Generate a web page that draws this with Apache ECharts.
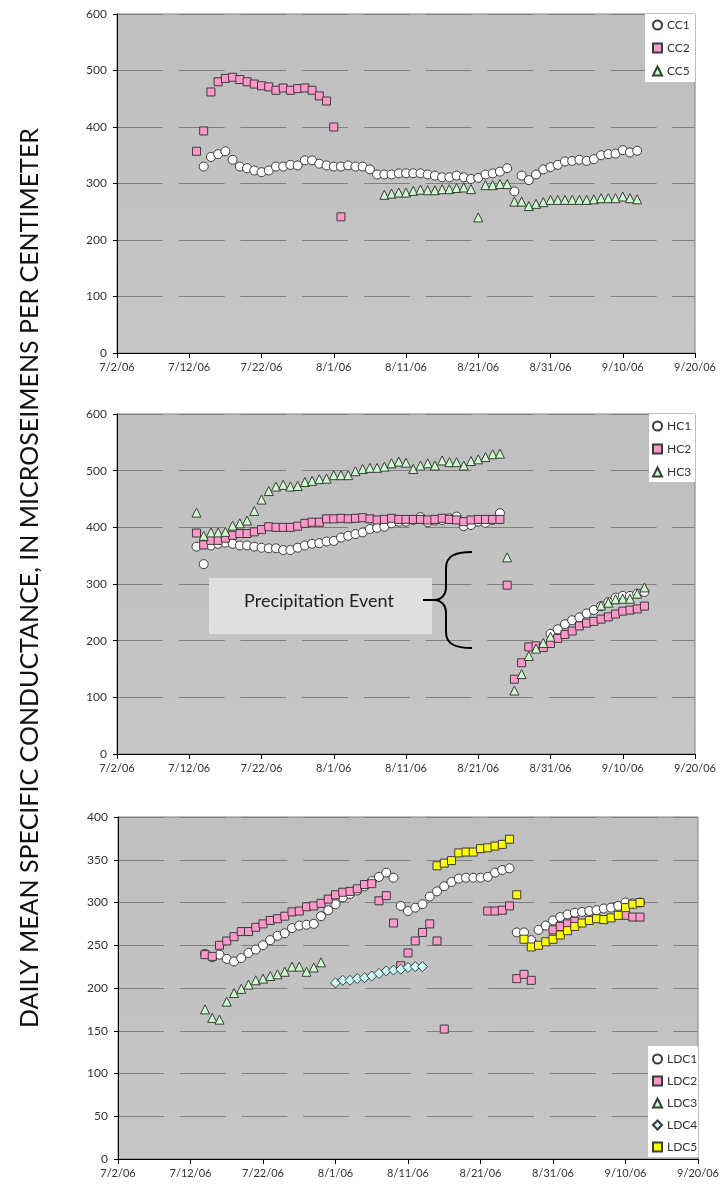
<!DOCTYPE html>
<html>
<head>
<meta charset="utf-8">
<script src="https://cdn.jsdelivr.net/npm/echarts@6/dist/echarts.min.js"></script>
<style>
  html, body { margin: 0; padding: 0; background: #fff; }
  #chart { width: 727px; height: 1189px; }
</style>
</head>
<body>
<div id="chart"></div>
<script>
// Daily mean specific conductance, summer 2006, three site groups.
// Axis origin: 7/2/06 (day 0). Each series = start date + consecutive daily values (null = no record).
const ORIGIN = '2006-07-02';
const X_TICK_LABELS = ['7/2/06', '7/12/06', '7/22/06', '8/1/06', '8/11/06', '8/21/06', '8/31/06', '9/10/06', '9/20/06'];

// ---- CC sites ----
const CC1_START = '2006-07-14';
const CC1 = [330, 347, 352, 357, 342, 330, 327, 323, 320, 323, 330, 330, 333, 332, 341, 341, 335, 332, 330, 330,
  332, 330, 330, 325, 316, 316, 316, 318, 318, 318, 318, 316, 314, 311, 311, 314, 311, 308, 310, 316,
  318, 321, 327, 286, 314, 306, 316, 325, 329, 333, 339, 340, 342, 340, 343, 350, 352, 353, 359, 355, 358];
const CC2_START = '2006-07-13';
const CC2 = [357, 393, 462, 480, 486, 488, 484, 480, 476, 473, 471, 465, 469, 465, 468, 469, 465, 455, 446, 400, 241];
const CC5_START = '2006-08-08';
const CC5 = [280, 282, 284, 284, 287, 289, 288, 288, 290, 290, 292, 293, 290, 240, 297, 297, 299, 299, 268, 268,
  260, 264, 267, 271, 271, 271, 271, 271, 271, 272, 274, 274, 274, 277, 274, 272];

// ---- HC sites ----
const HC1_START = '2006-07-13';
const HC1 = [366, 335, 368, 371, 373, 371, 368, 368, 366, 364, 363, 363, 360, 360, 364, 368, 371, 372, 375, 376,
  382, 385, 388, 391, 397, 399, 401, 407, 410, 410, 413, 418, 409, 412, 413, 416, 419, 402, 404, 410,
  408, 413, 425, null, null, null, null, null, null, 212, 220, 229, 236, 241, 248, 254, 261, 268, 276, 279,
  279, 283, 286];
const HC2_START = '2006-07-13';
const HC2 = [390, 369, 377, 377, 381, 386, 389, 389, 392, 396, 401, 400, 400, 400, 402, 407, 409, 409, 415, 415,
  416, 415, 416, 417, 415, 413, 414, 416, 414, 414, 414, 414, 413, 414, 416, 414, 413, 410, 413, 414,
  414, 414, 414, 298, 132, 161, 189, 191, 188, 195, 204, 211, 217, 226, 231, 234, 238, 242, 247, 252,
  254, 256, 261];
const HC3_START = '2006-07-13';
const HC3 = [426, 385, 391, 391, 392, 403, 407, 412, 429, 449, 464, 472, 475, 472, 473, 480, 482, 485, 486, 492,
  492, 492, 499, 503, 505, 505, 507, 513, 516, 514, 503, 509, 513, 509, 518, 515, 515, 509, 517, 520,
  524, 529, 530, 347, 112, 141, 173, 186, 196, 207, null, null, null, null, null, null, 262, 267, 273, 274,
  274, 283, 294];

// ---- LDC sites ----
const LDC1_START = '2006-07-14';
const LDC1 = [240, 236, 239, 234, 231, 235, 241, 245, 250, 256, 261, 264, 270, 273, 274, 275, 284, 291, 298, 306,
  310, 314, 319, 325, 330, 335, 329, 296, 290, 294, 298, 307, 313, 319, 324, 328, 329, 329, 329, 330,
  335, 338, 340, 265, 265, 256, 268, 273, 279, 283, 286, 288, 289, 290, 291, 293, 294, 296, 300, 299, 300];
const LDC2_START = '2006-07-14';
const LDC2 = [239, 237, 250, 255, 260, 266, 266, 271, 275, 279, 281, 284, 289, 290, 295, 296, 299, 304, 309, 312,
  313, 316, 321, 322, 302, 308, 276, 226, 241, 255, 265, 275, 255, 152, null, null, null, null, null, 290,
  290, 291, 296, 211, 216, 209, null, null, 268, 272, 275, 278, null, null, null, null, null, null, 285,
  283, 283];
const LDC3_START = '2006-07-14';
const LDC3 = [175, 165, 163, 184, 194, 199, 204, 209, 211, 214, 216, 219, 225, 225, 219, 224, 230];
const LDC4_START = '2006-08-01';
const LDC4 = [206, 209, 209, 211, 212, 214, 217, 220, 221, 222, 224, 225, 225];
const LDC5_START = '2006-08-15';
const LDC5 = [343, 346, 349, 358, 359, 359, 363, 364, 366, 368, 374, 309, 257, 248, 250, 254, 257, 262, 267, 272,
  276, 279, 281, 280, 282, 285, 294, 298, 300];

const DAY_MS = 86400000;
function dayOf(iso) { return Math.round((Date.parse(iso) - Date.parse(ORIGIN)) / DAY_MS); }
function pairs(start, values) {
  const d0 = dayOf(start);
  const out = [];
  values.forEach(function (v, i) { if (v != null) out.push([d0 + i, v]); });
  return out;
}

const FONT = 'Lato, "Open Sans", sans-serif';
const EDGE = '#3a3a3a';
const STYLES = {
  circle:   { symbol: 'circle',  symbolSize: 9, color: '#ffffff' },
  square:   { symbol: 'rect',    symbolSize: 8, color: '#ff99cc' },
  triangle: { symbol: 'triangle', symbolSize: 9, color: '#ccffcc' },
  diamond:  { symbol: 'diamond', symbolSize: 10, color: '#ccffff' },
  yellow:   { symbol: 'rect',    symbolSize: 8, color: '#ffff00' }
};

function scatter(name, kind, grid, start, values) {
  const s = STYLES[kind];
  return {
    name: name, type: 'scatter', xAxisIndex: grid, yAxisIndex: grid,
    symbol: s.symbol, symbolSize: s.symbolSize,
    itemStyle: { color: s.color, borderColor: EDGE, borderWidth: 1, opacity: 1 },
    emphasis: { disabled: true },
    data: pairs(start, values)
  };
}

const GRIDS = [
  { left: 117, top: 14, width: 578, height: 339 },
  { left: 117, top: 414, width: 578, height: 340 },
  { left: 118, top: 817, width: 580, height: 342 }
];
const Y_RANGES = [[0, 600, 100], [0, 600, 100], [0, 400, 50]];

// curly brace beside the note box, as bezier and straight pieces
const BRACE_STROKE = { stroke: '#000', lineWidth: 2, fill: null };
function curve(x1, y1, cx1, cy1, cx2, cy2, x2, y2) {
  return { type: 'bezierCurve', z: 4, shape: { x1: x1, y1: y1, cpx1: cx1, cpy1: cy1, cpx2: cx2, cpy2: cy2, x2: x2, y2: y2 }, style: BRACE_STROKE };
}
function seg(x1, y1, x2, y2) {
  return { type: 'line', z: 4, shape: { x1: x1, y1: y1, x2: x2, y2: y2 }, style: BRACE_STROKE };
}

const chart = echarts.init(document.getElementById('chart'), null, { renderer: 'canvas' });

const option = {
  animation: false,
  backgroundColor: '#ffffff',
  textStyle: { fontFamily: FONT },
  grid: GRIDS.map(function (g) {
    return Object.assign({
      show: true, containLabel: false,
      backgroundColor: {
        type: 'linear', x: 0, y: 0, x2: 0, y2: 1,
        colorStops: [{ offset: 0, color: '#bfbfbf' }, { offset: 1, color: '#c6c6c6' }]
      },
      borderColor: '#808080', borderWidth: 1
    }, g);
  }),
  xAxis: GRIDS.map(function (g, i) {
    return {
      type: 'value', gridIndex: i, min: 0, max: 80, interval: 10,
      axisLine: { show: true, onZero: false, lineStyle: { color: '#000', width: 1 } },
      axisTick: { show: true, inside: false, length: 5, lineStyle: { color: '#000' } },
      axisLabel: {
        margin: 9, fontSize: 11, color: '#333', fontFamily: FONT,
        formatter: function (v) { return X_TICK_LABELS[Math.round(v / 10)]; }
      },
      splitLine: { show: false }
    };
  }),
  yAxis: Y_RANGES.map(function (r, i) {
    return {
      type: 'value', gridIndex: i, min: r[0], max: r[1], interval: r[2],
      axisLine: { show: true, lineStyle: { color: '#000', width: 1 } },
      axisTick: { show: true, inside: false, length: 4, lineStyle: { color: '#000' } },
      axisLabel: { margin: 10, fontSize: 12, color: '#333', fontFamily: FONT },
      splitLine: { show: true, lineStyle: { color: '#808080', width: 1, type: [46, 15.7] } }
    };
  }),
  legend: [
    { data: ['CC1', 'CC2', 'CC5'], left: 652, top: 19, itemGap: 11 },
    { data: ['HC1', 'HC2', 'HC3'], left: 652, top: 420, itemGap: 11 },
    { data: ['LDC1', 'LDC2', 'LDC3', 'LDC4', 'LDC5'], left: 652, top: 1053, itemGap: 10 }
  ].map(function (l) {
    return Object.assign({
      orient: 'vertical', padding: 0, itemWidth: 9, itemHeight: 9,
      selectedMode: false,
      textStyle: { fontSize: 12, color: '#333', fontFamily: FONT }
    }, l);
  }),
  graphic: [
    // legend boxes
    { type: 'rect', z: 3, shape: { x: 645, y: 14, width: 50, height: 68 }, style: { fill: '#ffffff' } },
    { type: 'rect', z: 3, shape: { x: 649, y: 414, width: 46, height: 68 }, style: { fill: '#ffffff' } },
    { type: 'rect', z: 3, shape: { x: 648, y: 1046, width: 50, height: 111 }, style: { fill: '#ffffff' } },
    // precipitation event note
    { type: 'rect', z: 3, shape: { x: 209, y: 578, width: 223, height: 56 }, style: { fill: '#dfdfdf' } },
    { type: 'text', z: 4, x: 319, y: 601,
      style: { text: 'Precipitation Event', fontSize: 18, fontFamily: FONT, fill: '#222',
               align: 'center', verticalAlign: 'middle' } },
    curve(472, 552, 455, 552, 446, 556, 446, 568),
    seg(446, 568, 446, 587),
    curve(446, 587, 446, 595, 441, 600, 434, 600),
    seg(434, 600, 423, 600),
    curve(434, 600, 441, 600, 446, 605, 446, 613),
    seg(446, 613, 446, 632),
    curve(446, 632, 446, 644, 455, 648, 472, 648),
    // shared vertical axis title
    { type: 'text', z: 4, x: 30, y: 578, rotation: Math.PI / 2,
      style: { text: 'DAILY MEAN SPECIFIC CONDUCTANCE, IN MICROSEIMENS PER CENTIMETER',
               fontSize: 25, fontFamily: FONT, fill: '#111', align: 'center', verticalAlign: 'middle' } }
  ],
  series: [
    scatter('CC1', 'circle', 0, CC1_START, CC1),
    scatter('CC2', 'square', 0, CC2_START, CC2),
    scatter('CC5', 'triangle', 0, CC5_START, CC5),
    scatter('HC1', 'circle', 1, HC1_START, HC1),
    scatter('HC2', 'square', 1, HC2_START, HC2),
    scatter('HC3', 'triangle', 1, HC3_START, HC3),
    scatter('LDC1', 'circle', 2, LDC1_START, LDC1),
    scatter('LDC2', 'square', 2, LDC2_START, LDC2),
    scatter('LDC3', 'triangle', 2, LDC3_START, LDC3),
    scatter('LDC4', 'diamond', 2, LDC4_START, LDC4),
    scatter('LDC5', 'yellow', 2, LDC5_START, LDC5)
  ]
};

chart.setOption(option);
</script>
</body>
</html>
